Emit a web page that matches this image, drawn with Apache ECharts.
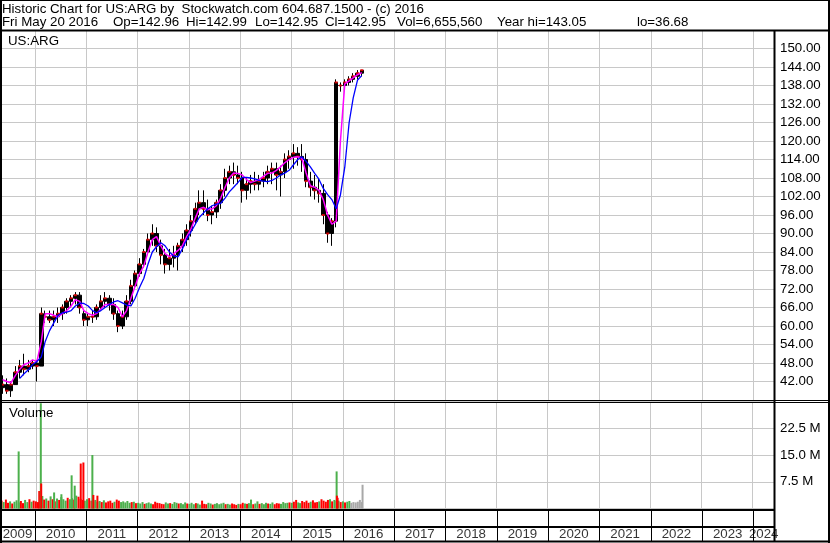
<!DOCTYPE html>
<html><head><meta charset="utf-8">
<script src="https://cdn.jsdelivr.net/npm/echarts@6/dist/echarts.min.js"></script>
<style>html,body{margin:0;padding:0;background:#fff}#c{width:830px;height:543px}</style>
</head><body><div id="c"></div>
<script>
// ---------- texts ----------
const headerLine1 = 'Historic Chart for US:ARG by  Stockwatch.com 604.687.1500 - (c) 2016';
const headerFields = ['Fri May 20 2016', 'Op=142.96', 'Hi=142.99', 'Lo=142.95', 'Cl=142.95', 'Vol=6,655,560', 'Year hi=143.05', 'lo=36.68'];
const headerFieldX = [2, 113, 186, 255, 325, 397, 497, 637];
const symbolLabel = 'US:ARG';
const volumeLabel = 'Volume';
const axisStart = '2009-04-27', axisEnd = '2024-05-27';
const yearLabels = ['2009','2010','2011','2012','2013','2014','2015','2016','2017','2018','2019','2020','2021','2022','2023','2024'];

// ---------- monthly price bars [open, close, low, high], first month 2009-05 ----------
const ohlc2009 = [[40,41,38,44],[41,39,38,43],[39,41,37,42],[41,45,41,47],[45,47,43,49],[47,46,44,51],[46,47,45,49],[47,48,46,49]];
const ohlc2010 = [[48,47,42,49],[47,64,47,66],[63,63,61,65],[63,62,61,65],[62,63,60,65],[63,64,61,66],[64,66,62,67],[66,68,64,69],[68,69,66,70],[69,70,67,71],[70,66,64,71],[64,62,60,65]];
const ohlc2011 = [[62,63,60,64],[63,63,61,65],[63,66,62,67],[66,68,65,70],[68,69,66,71],[69,67,65,70],[67,64,62,69],[64,60,58,65],[60,63,59,65],[63,68,62,70],[68,73,67,75],[73,77,72,78]];
const ohlc2012 = [[77,80,76,82],[80,84,79,85],[84,88,83,90],[88,90,86,93],[90,86,84,92],[86,83,80,88],[83,80,77,85],[80,82,78,85],[82,83,79,86],[83,86,78,87],[86,88,84,90],[88,91,86,93]];
const ohlc2013 = [[91,94,89,96],[94,98,93,100],[98,100,96,104],[100,98,96,104],[98,96,94,101],[96,97,93,99],[97,100,95,101],[100,104,98,106],[104,108,102,111],[108,110,106,112],[110,109,106,113],[109,108,106,112]];
const ohlc2014 = [[108,104,100,110],[104,106,101,108],[106,107,103,109],[107,106,104,110],[106,107,104,109],[107,108,105,110],[108,110,106,112],[110,111,106,113],[111,109,104,113],[109,110,102,112],[110,114,108,116],[114,115,111,117]];
const ohlc2015 = [[115,116,111,119],[116,115,112,118],[115,114,110,119],[114,107,105,116],[107,105,102,110],[105,104,101,109],[104,103,100,108],[103,96,93,106],[96,90,87,97],[90,94,86,95],[94,139,92,140],[138,138,136,139]];
const ohlc2016 = [[138,139,137,140],[139,140,138,141],[140,141,139,142],[141,142,140,143],[142,142.95,141,143.05]];

// ---------- moving averages (monthly samples, same months) ----------
const maShort = [42.6,42,41.6,44,46,47.5,48,49,
  48.5,55,64,64,63.5,63,64,65,66.5,68.5,68,65,
  64,63.5,64,65.5,67,67,67,66,63,65,69,73,
  77,79.5,84,88,89,86,83.5,82.5,83.5,84.5,86,89,
  91.5,95,98,98.5,97.7,98,99,101.5,105,108,109.6,109.5,
  109,107.5,106.5,107,107.5,108.5,109.5,109.6,110.5,111.6,113,114,
  114.7,114.9,114.5,109.6,105.5,105,104,101,96,93,94,120,
  138.5,139.5,140.5,141.5,142.2];
const maLong = [null,null,null,null,43,44.5,45.8,47.5,
  48.5,50,55,58.5,61,63.5,64.3,64.5,65,66.5,67.4,67.3,
  66.5,65,64.3,65,66,67,67.8,68.2,67.5,66.8,66.5,69,
  72.5,75.5,80,84,85.7,87,86,84,82.7,82.4,85,88,
  90.5,93,95.2,96.7,98,99,99.5,99.8,101.5,103.5,105,106.5,
  108.2,108.2,108,107.7,107.2,107,106.8,107.2,108,109,109.6,110.5,
  112.3,114,114.9,113.4,111.6,109.5,107.6,104.6,102.6,101,98,102.5,
  111.5,126,134,139.8,141.2];

// ---------- volume, millions, twice a month (1st & 16th), first 2009-05 ----------
const vol2009 = [2.2,1.8,2.5,1.6,2.0,1.4,1.9,2.3,1.7,2.1,1.5,2.4,1.8,2.6,1.9,2.2];
const vol2010 = [2.0,1.8,3.0,3.5,2.5,2.8,2.2,3.4,2.6,2.0,2.8,2.4,3.2,2.6,2.2,3.0,2.6,2.9,2.5,3.6,3.3,2.7,2.4,2.2];
const vol2011 = [2.6,2.9,2.2,2.0,2.4,1.9,2.1,1.8,2.3,1.7,2.0,2.2,1.6,1.9,2.5,2.2,1.8,2.0,1.7,2.1,1.6,1.8,1.9,1.5];
const vol2012 = [1.6,1.4,1.8,1.3,1.5,1.7,1.4,1.2,1.9,1.6,1.5,1.3,1.2,1.7,1.4,1.5,1.3,1.8,1.6,1.4,1.5,1.2,1.7,1.4];
const vol2013 = [1.3,1.6,1.2,1.5,1.4,1.1,2.2,1.3,1.2,1.6,1.4,1.1,1.3,1.5,1.2,1.4,1.6,1.2,1.3,1.1,1.4,1.2,1.0,1.3];
const vol2014 = [1.2,1.6,1.4,1.3,1.5,2.5,1.2,1.4,2.0,1.3,1.5,1.2,1.6,1.4,1.3,1.7,1.2,1.5,1.4,1.3,1.8,1.5,1.6,1.7];
const vol2015 = [1.6,1.9,2.4,1.7,1.5,2.1,1.8,2.2,1.6,1.9,2.3,1.7,1.8,2.0,2.6,2.2,1.9,2.4,2.6,2.0,2.4,2.1,2.2,1.8];
const vol2016 = [2.0,1.7,1.9,2.1,1.6,1.8,1.7,1.9,2.4,1.8];
// u = up (green), d = down (red), n = unchanged (grey)
const dir2009 = 'du dd ud uu ud du ud ud';
const dir2010 = 'dd uu du du dd ud uu ud uu du dd du';
const dir2011 = 'ud du uu ud ud dd du dd uu uu ud ud';
const dir2012 = 'uu ud uu ud dd dd du ud uu ud uu ud';
const dir2013 = 'uu ud uu dd du ud uu uu ud uu dd du';
const dir2014 = 'dd ud uu du ud uu ud uu dd du uu ud';
const dir2015 = 'ud du ud dd du dd du dd dd ud uu ud';
const dir2016 = 'ud uu nn nn nn';
// single-day volume spikes
const spikeDates = ['2009-08-31','2010-01-25','2010-02-05','2010-02-08','2010-05-11','2010-07-02','2010-09-13','2010-10-05','2010-11-17','2010-12-06','2011-02-08','2011-02-15','2011-03-16','2015-11-17','2015-11-19','2015-11-24','2016-05-20'];
const spikeVals  = [16.0,4.9,29.5,7.0,4.5,4.0,9.3,6.4,12.6,12.9,15.0,3.8,3.6,10.4,3.6,3.0,6.66];
const spikeDir   = 'u d u d u u u u d d u d d u d d n';

// ---------- build ----------
const FONT = '"Liberation Sans", Arial, sans-serif';
const FS = 13.3;
const ohlc = [].concat(ohlc2009, ohlc2010, ohlc2011, ohlc2012, ohlc2013, ohlc2014, ohlc2015, ohlc2016);
const monthT = i => Date.UTC(2009, 4 + i, 15);
const candleData = ohlc.map((r, i) => [monthT(i), r[0], r[1], r[2], r[3]]);
const closeData = ohlc.map((r, i) => [monthT(i), r[1]]);
const shortData = maShort.map((v, i) => [monthT(i), v]);
const longData = maLong.map((v, i) => [monthT(i), v]);

const vols = [].concat(vol2009, vol2010, vol2011, vol2012, vol2013, vol2014, vol2015, vol2016);
const dirs = (dir2009 + dir2010 + dir2011 + dir2012 + dir2013 + dir2014 + dir2015 + dir2016).replace(/\s/g, '');
const COL = {u: '#4cb04c', d: '#ff0000', n: '#a8a8a8'};
const volData = vols.map((v, i) => ({
  value: [Date.UTC(2009, 4 + Math.floor(i / 2), i % 2 ? 16 : 1), v],
  itemStyle: {color: COL[dirs[i] || 'u']}
}));
const sDirs = spikeDir.split(' ');
spikeDates.forEach((d, i) => volData.push({value: [d, spikeVals[i]], itemStyle: {color: COL[sDirs[i]]}}));

const tMin = Date.parse(axisStart), tMax = Date.parse(axisEnd);
const yearData = yearLabels.map(y => {
  const s = Math.max(Date.UTC(+y, 0, 1), tMin), e = Math.min(Date.UTC(+y + 1, 0, 1), tMax);
  return {value: [(s + e) / 2, 0.23], name: y};
});

const YEAR = 365 * 864e5;
function timeAxis(gi, splitColor) {
  return {type: 'time', gridIndex: gi, min: tMin, max: tMax, splitNumber: 15,
    minInterval: YEAR, maxInterval: YEAR + 864e5,
    axisLine: {show: false}, axisTick: {show: false}, axisLabel: {show: false},
    splitLine: {show: true, lineStyle: {color: splitColor, width: 1}}};
}

const L = 774, R = 830;
const blk = (x1, y1, x2, y2, w) => ({type: 'line', z: 100, silent: true,
  shape: {x1, y1, x2, y2}, style: {stroke: '#000', lineWidth: w}});
const txt = (x, y, t) => ({type: 'text', z: 101, x, y,
  style: {text: t, fill: '#000', font: FS + 'px ' + FONT, verticalAlign: 'middle'}});

const graphics = [
  blk(0, 0.5, R, 0.5, 1), blk(R - 1, 0, R - 1, 543, 2), blk(1, 0, 1, 543, 2),
  blk(0, 30.5, R, 30.5, 2),
  blk(L + 0.5, 30, L + 0.5, 542, 2),
  blk(0, 400.5, R, 400.5, 1), blk(0, 402.5, R, 402.5, 1),
  blk(0, 510, L, 510, 2), blk(0, 527, L, 527, 2),
  blk(0, 541.5, R, 541.5, 2),
  txt(2, 9, headerLine1),
  txt(8, 41.5, symbolLabel), txt(9, 413, volumeLabel)
];
headerFields.forEach((t, i) => graphics.push(txt(headerFieldX[i], 22, t)));

const chart = echarts.init(document.getElementById('c'), null, {renderer: 'canvas'});
chart.setOption({
  animation: false,
  useUTC: true,
  backgroundColor: '#fff',
  textStyle: {fontFamily: FONT},
  grid: [
    {left: 0, top: 30, width: L, height: 370},
    {left: 0, top: 401.5, width: L, height: 107},
    {left: 0, top: 510, width: L, height: 31}
  ],
  xAxis: [timeAxis(0, '#c8c8c8'), timeAxis(1, '#c8c8c8'), timeAxis(2, '#000')],
  yAxis: [
    {type: 'value', gridIndex: 0, position: 'right', min: 36, max: 156, interval: 6,
      axisLine: {show: false}, axisTick: {show: false},
      splitLine: {lineStyle: {color: '#c8c8c8'}},
      axisLabel: {margin: 6, color: '#000', fontSize: FS, fontFamily: FONT,
        formatter: v => (v <= 36 || v >= 156) ? '' : v.toFixed(2)}},
    {type: 'value', gridIndex: 1, position: 'right', min: 0, max: 30, interval: 7.5,
      axisLine: {show: false}, axisTick: {show: false},
      splitLine: {lineStyle: {color: '#c8c8c8'}},
      axisLabel: {margin: 6, color: '#000', fontSize: FS, fontFamily: FONT,
        formatter: v => (v <= 0 || v >= 30) ? '' : v.toFixed(1) + ' M'}},
    {type: 'value', gridIndex: 2, min: 0, max: 1, show: false}
  ],
  series: [
    {type: 'candlestick', xAxisIndex: 0, yAxisIndex: 0, data: candleData, barWidth: 4,
      encode: {x: 0, y: [1, 2, 3, 4]},
      itemStyle: {color: '#000', color0: '#000', borderColor: '#000', borderColor0: '#000', borderWidth: 1}},
    {type: 'scatter', xAxisIndex: 0, yAxisIndex: 0, data: closeData, symbol: 'rect', symbolSize: [3, 2],
      itemStyle: {color: '#ff0000'}, z: 2},
    {type: 'line', xAxisIndex: 0, yAxisIndex: 0, data: shortData, showSymbol: false, z: 3,
      lineStyle: {color: '#ff00ff', width: 1.5}},
    {type: 'line', xAxisIndex: 0, yAxisIndex: 0, data: longData, showSymbol: false, z: 4,
      lineStyle: {color: '#0000ff', width: 1.3}},
    {type: 'bar', xAxisIndex: 1, yAxisIndex: 1, data: volData, barWidth: 2,
      encode: {x: 0, y: 1}},
    {type: 'scatter', xAxisIndex: 2, yAxisIndex: 2, data: yearData, symbolSize: 1,
      itemStyle: {color: 'rgba(0,0,0,0)'},
      label: {show: true, position: 'inside', formatter: p => p.name, color: '#000', fontSize: FS, fontFamily: FONT}}
  ],
  graphic: graphics
});
</script></body></html>
